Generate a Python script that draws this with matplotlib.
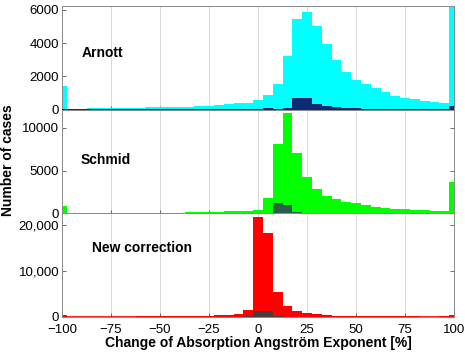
import matplotlib
matplotlib.use('Agg')
import matplotlib.pyplot as plt
import numpy as np

plt.rcParams['font.family'] = ['Liberation Sans', 'DejaVu Sans']
plt.rcParams['font.size'] = 10

# bin centres (change of AAE in %), bin width 5
centers = np.arange(-100, 101, 5)
edges = np.append(centers - 2.5, centers[-1] + 2.5)

# Arnott correction: all cases and subset
arnott = [1440, 60, 70, 80, 90, 100, 110, 120, 130, 140, 150, 160, 170, 190, 210,
          240, 280, 320, 380, 420, 560, 880, 1540, 3240, 5440, 5840, 5040, 3920,
          2980, 2280, 1780, 1520, 1280, 1040, 840, 720, 640, 540, 480, 400, 9000]
arnott_sub = [30, 20, 20, 20, 20, 20, 20, 20, 20, 30, 40, 40, 40, 40, 40,
              40, 50, 60, 60, 70, 70, 80, 60, 120, 680, 680, 320, 200,
              140, 100, 80, 70, 60, 50, 40, 40, 30, 30, 30, 30, 200]

# Schmid correction
schmid = [930, 60, 60, 60, 70, 70, 80, 80, 90, 100, 110, 120, 130, 150, 170,
          190, 220, 260, 300, 340, 420, 1820, 8150, 11750, 7030, 4250, 2900, 2080,
          1660, 1390, 1200, 1000, 810, 700, 580, 500, 430, 400, 350, 300, 3630]
schmid_sub = [40, 10, 10, 10, 10, 10, 10, 10, 10, 10, 10, 10, 10, 10, 20,
              20, 20, 20, 30, 30, 40, 60, 1240, 1000, 150, 60, 40, 30,
              20, 20, 20, 10, 10, 10, 10, 10, 10, 10, 10, 10, 100]

# new correction
newcorr = [350, 40, 40, 40, 40, 40, 40, 40, 50, 50, 50, 50, 60, 80, 120,
           180, 290, 440, 660, 1470, 21760, 18300, 5440, 2280, 1180, 800, 500, 330,
           220, 160, 120, 100, 80, 70, 60, 50, 50, 40, 40, 50, 450]
newcorr_sub = [10, 0, 0, 0, 0, 0, 0, 0, 0, 0, 0, 0, 0, 0, 0,
               10, 10, 20, 30, 80, 1320, 1320, 120, 40, 20, 10, 10, 0,
               0, 0, 0, 0, 0, 0, 0, 0, 0, 0, 0, 0, 20]

panels = [
    ('Arnott', arnott, arnott_sub, '#00ffff', '#0d2a73', 6200, [0, 2000, 4000, 6000],
     ['0', '2000', '4000', '6000'], (0.051, 0.55)),
    ('Schmid', schmid, schmid_sub, '#00ff00', '#2b5e49', 12000, [0, 5000, 10000],
     ['0', '5000', '10000'], (0.048, 0.52)),
    ('New correction', newcorr, newcorr_sub, '#ff0000', '#4d3a3a', 22650, [0, 10000, 20000],
     ['0', '10,000', '20,000'], (0.076, 0.665)),
]

fig = plt.figure(figsize=(4.65, 3.52), dpi=100)
left, width, h = 62 / 465, 392 / 465, 0.2935
bottoms = [0.6884, 0.3929, 0.1003]

for i, (name, allv, sub, col, dcol, ymax, yt, ytl, tpos) in enumerate(panels):
    ax = fig.add_axes([left, bottoms[i], width, h])
    ax.stairs(allv, edges, fill=True, color=col, zorder=2)
    ax.stairs(sub, edges, fill=True, color=dcol, zorder=3)
    ax.axhline(0, color=col, linewidth=1.2, zorder=2.5)
    ax.set_xlim(-100, 100)
    ax.set_ylim(0, ymax)
    ax.set_yticks(yt)
    ax.set_yticklabels(ytl)
    ax.set_xticks(np.arange(-100, 101, 25))
    ax.grid(axis='x', color='#d8d8d8', linewidth=0.7, zorder=0)
    ax.set_axisbelow(True)
    ax.tick_params(direction='in', length=3, top=False, right=True, width=0.6,
                   color='#555555', pad=2, labelsize=9.5)
    ax.tick_params(axis='x', pad=5)
    for s in ax.spines.values():
        s.set_color('#888888')
        s.set_linewidth(0.7)
    ax.text(tpos[0], tpos[1], name, transform=ax.transAxes, fontweight='bold',
            fontsize=10, va='center', ha='left')
    if i < 2:
        ax.set_xticklabels([])
    else:
        ax.set_xticklabels(['\u2212100', '\u221275', '\u221250', '\u221225', '0',
                            '25', '50', '75', '100'])
        ax.set_xlabel('Change of Absorption Angstr\u00f6m Exponent [%]',
                      fontweight='bold', labelpad=0.5)

fig.text(0.018, 0.545, 'Number of cases', rotation=90, fontweight='bold',
         fontsize=10, va='center', ha='center')

fig.savefig('out.png', dpi=100)
